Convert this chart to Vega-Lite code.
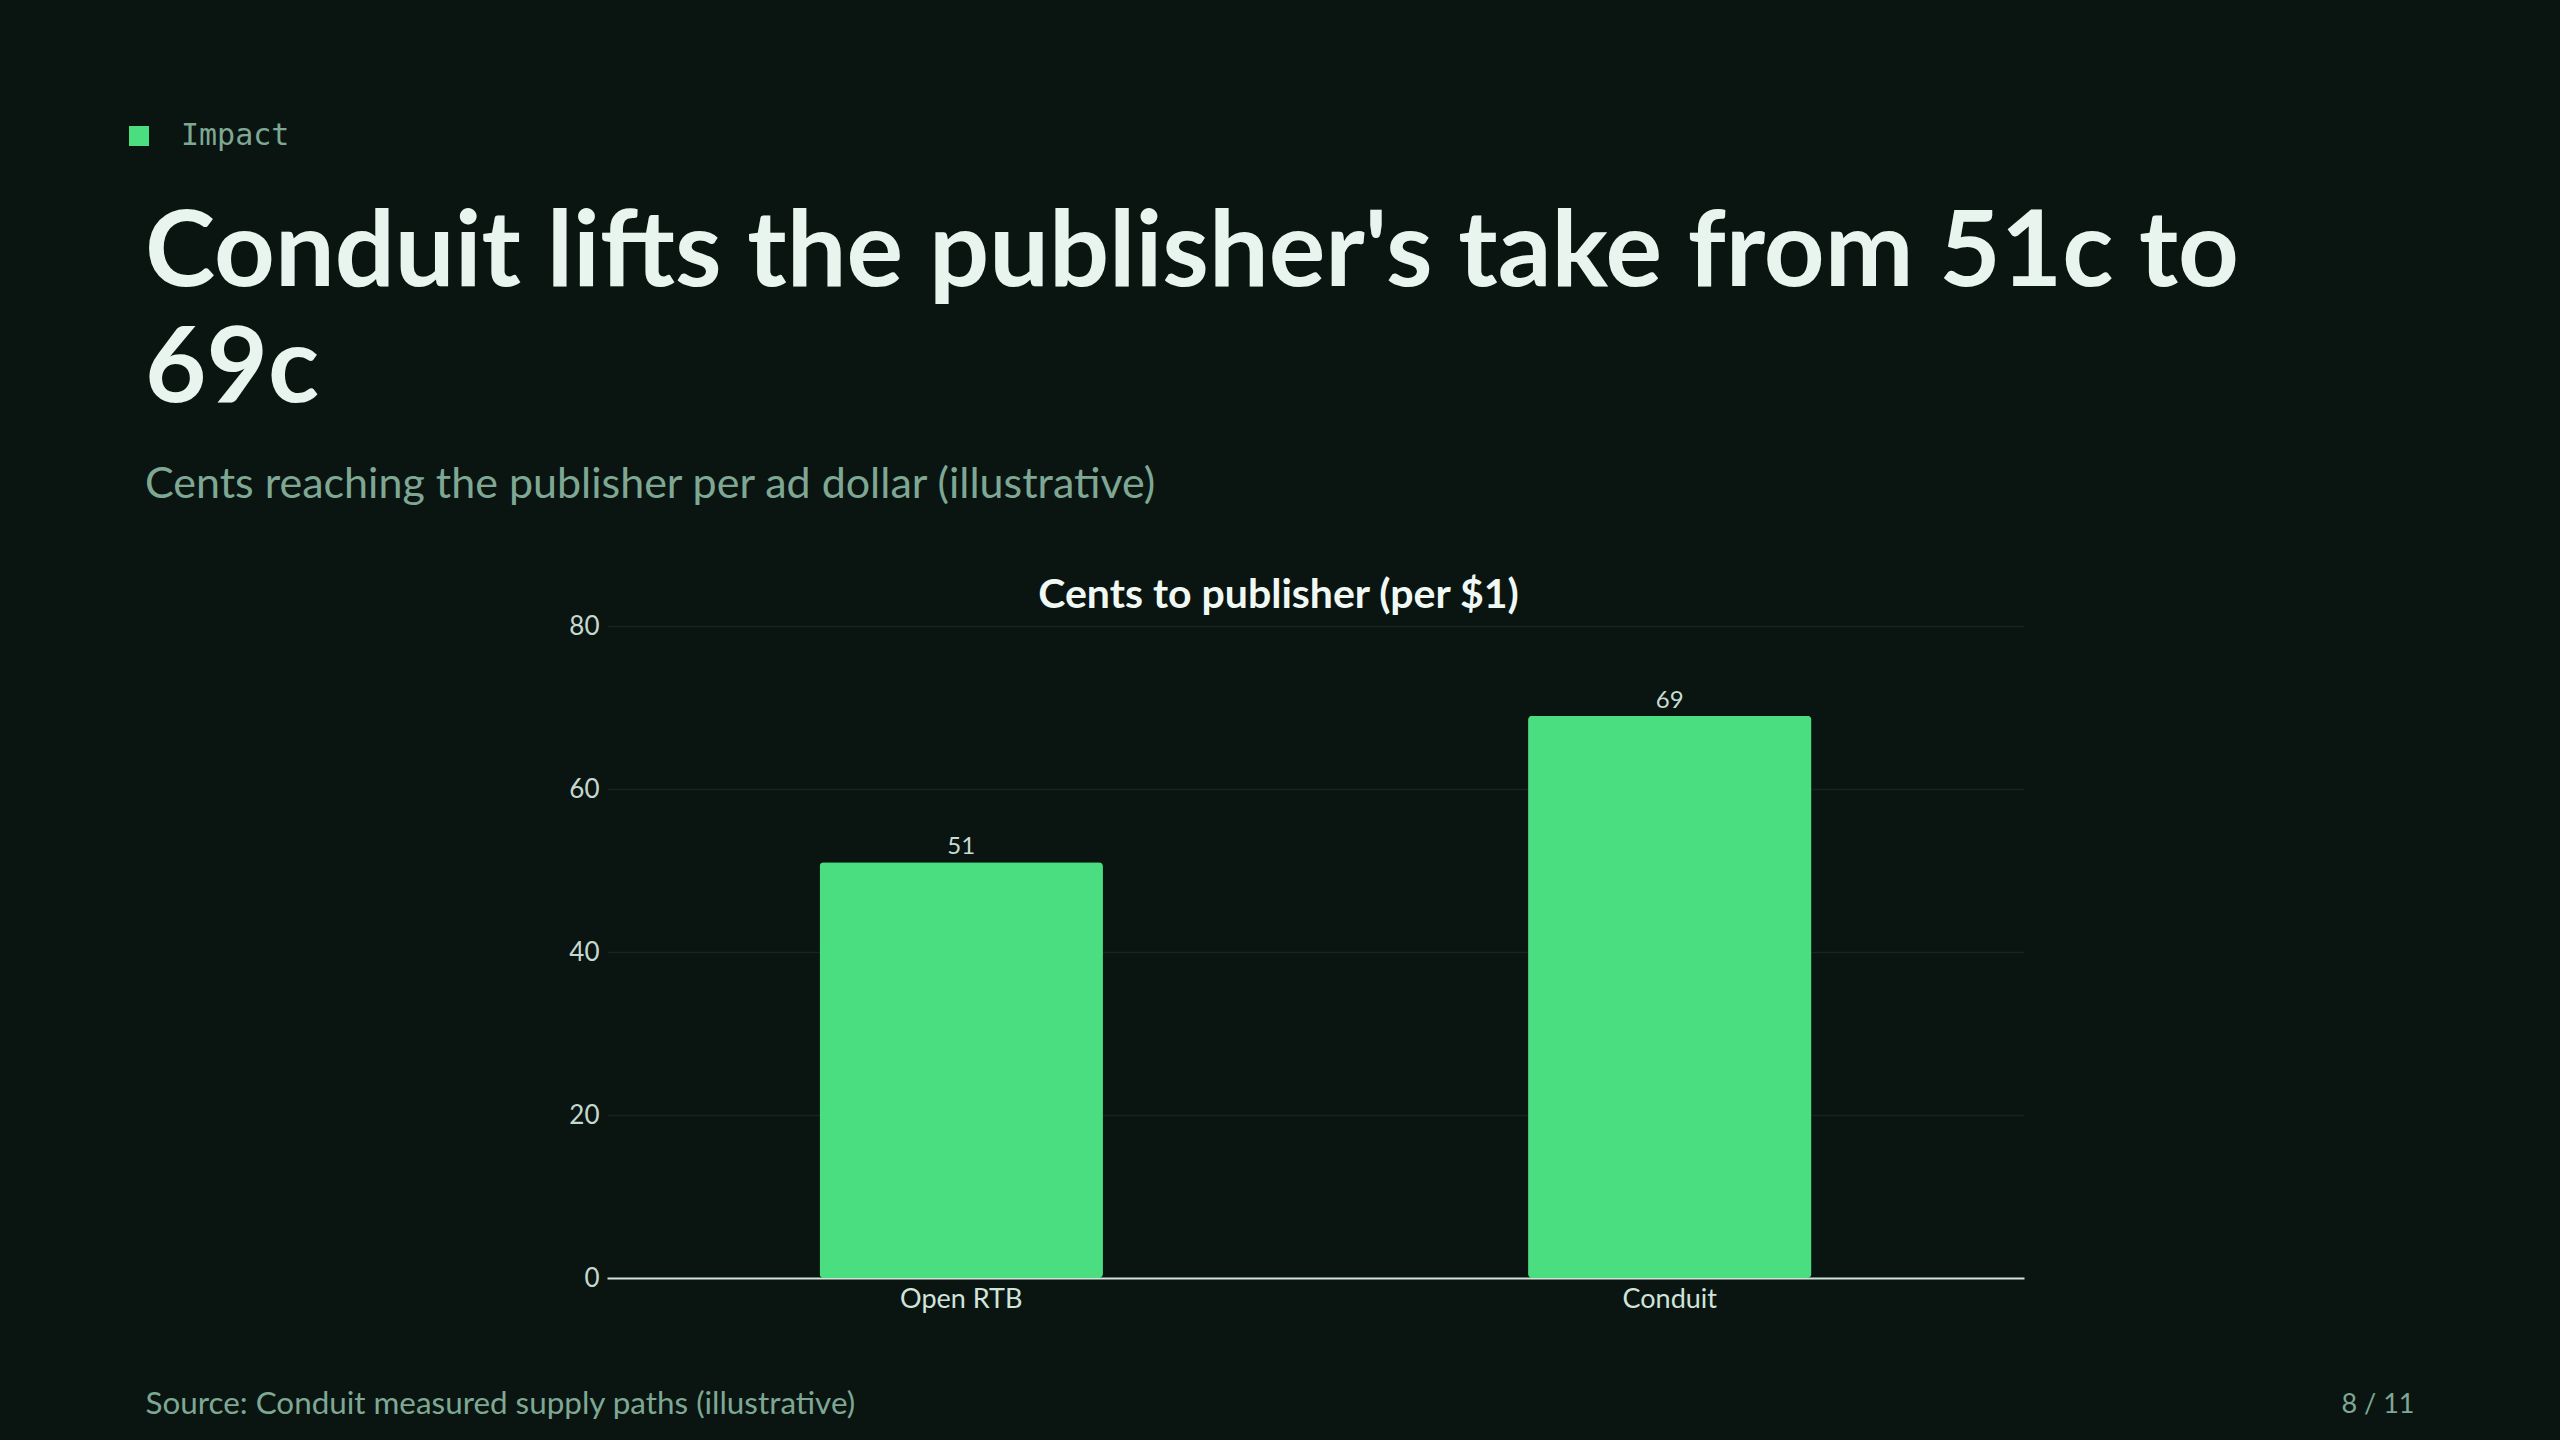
{
  "$schema": "https://vega.github.io/schema/vega-lite/v6.json",
  "autosize": {"type": "none"},
  "width": 1417,
  "height": 652,
  "padding": {"left": 607, "top": 626, "right": 536, "bottom": 162},
  "background": "#0a1512",
  "config": {
    "font": "Lato",
    "view": {"stroke": null},
    "axis": {"labelFont": "Lato", "titleFont": "Lato"}
  },
  "title": {
    "text": ["Conduit lifts the publisher's take from 51c to", "69c"],
    "subtitle": "Cents reaching the publisher per ad dollar (illustrative)",
    "anchor": "start",
    "frame": "group",
    "dx": -462,
    "dy": 427,
    "font": "Lato",
    "fontSize": 106,
    "fontWeight": "bold",
    "color": "#e8f5ee",
    "lineHeight": 116,
    "subtitleFont": "Lato",
    "subtitleFontSize": 43,
    "subtitleColor": "#7fa894",
    "subtitlePadding": 40,
    "offset": 40
  },
  "data": {"values": [
    {"path": "Open RTB", "cents": 51},
    {"path": "Conduit", "cents": 69}
  ]},
  "encoding": {
    "x": {
      "field": "path",
      "type": "nominal",
      "sort": null,
      "scale": {"paddingInner": 0.6, "paddingOuter": 0.3},
      "axis": {
        "labelAngle": 0,
        "labelFontSize": 27,
        "labelColor": "#d0e4da",
        "labelPadding": 8,
        "ticks": false,
        "domainColor": "#cfe3d8",
        "domainWidth": 2,
        "title": "Source: Conduit measured supply paths (illustrative)",
        "titleX": -462,
        "titleY": 135,
        "titleAlign": "left",
        "titleAnchor": null,
        "titleBaseline": "alphabetic",
        "titleFontSize": 31.4,
        "titleFontWeight": "normal",
        "titleColor": "#7fa894"
      }
    }
  },
  "layer": [
    {
      "mark": {"type": "bar", "cornerRadius": 4},
      "encoding": {
        "y": {
          "field": "cents",
          "type": "quantitative",
          "scale": {"domain": [0, 80]},
          "axis": {
            "values": [0, 20, 40, 60, 80],
            "labelFontSize": 26,
            "labelColor": "#c5d8ce",
            "labelPadding": 8,
            "ticks": false,
            "domain": false,
            "gridColor": "#15241f",
            "gridWidth": 1.5,
            "title": "Cents to publisher (per $1)",
            "titleAngle": 0,
            "titleX": 671,
            "titleY": -19,
            "titleAlign": "center",
            "titleBaseline": "alphabetic",
            "titleFontSize": 41,
            "titleFontWeight": "bold",
            "titleColor": "#f0f8f4"
          }
        },
        "color": {
          "datum": "Impact",
          "scale": {"range": ["#4ade80"]},
          "legend": {
            "orient": "none",
            "legendX": -483,
            "legendY": -505,
            "title": null,
            "padding": 0,
            "symbolType": "square",
            "symbolSize": 400,
            "symbolStrokeWidth": 0,
            "labelFont": "DejaVu Sans Mono",
            "labelFontSize": 30,
            "labelColor": "#7fa894",
            "labelOffset": 27
          }
        }
      }
    },
    {
      "mark": {"type": "text", "dy": -8, "baseline": "alphabetic", "fontSize": 24, "color": "#c8dcd2"},
      "encoding": {
        "y": {
          "field": "cents",
          "type": "quantitative",
          "axis": {
            "labels": false,
            "ticks": false,
            "domain": false,
            "grid": false,
            "title": "8 / 11",
            "titleAngle": 0,
            "titleX": 390,
            "titleY": 786,
            "titleAlign": "right",
            "titleBaseline": "alphabetic",
            "titleFontSize": 27,
            "titleFontWeight": "normal",
            "titleColor": "#7fa894"
          }
        },
        "text": {"field": "cents", "type": "quantitative"}
      }
    }
  ],
  "resolve": {"axis": {"y": "independent"}}
}
